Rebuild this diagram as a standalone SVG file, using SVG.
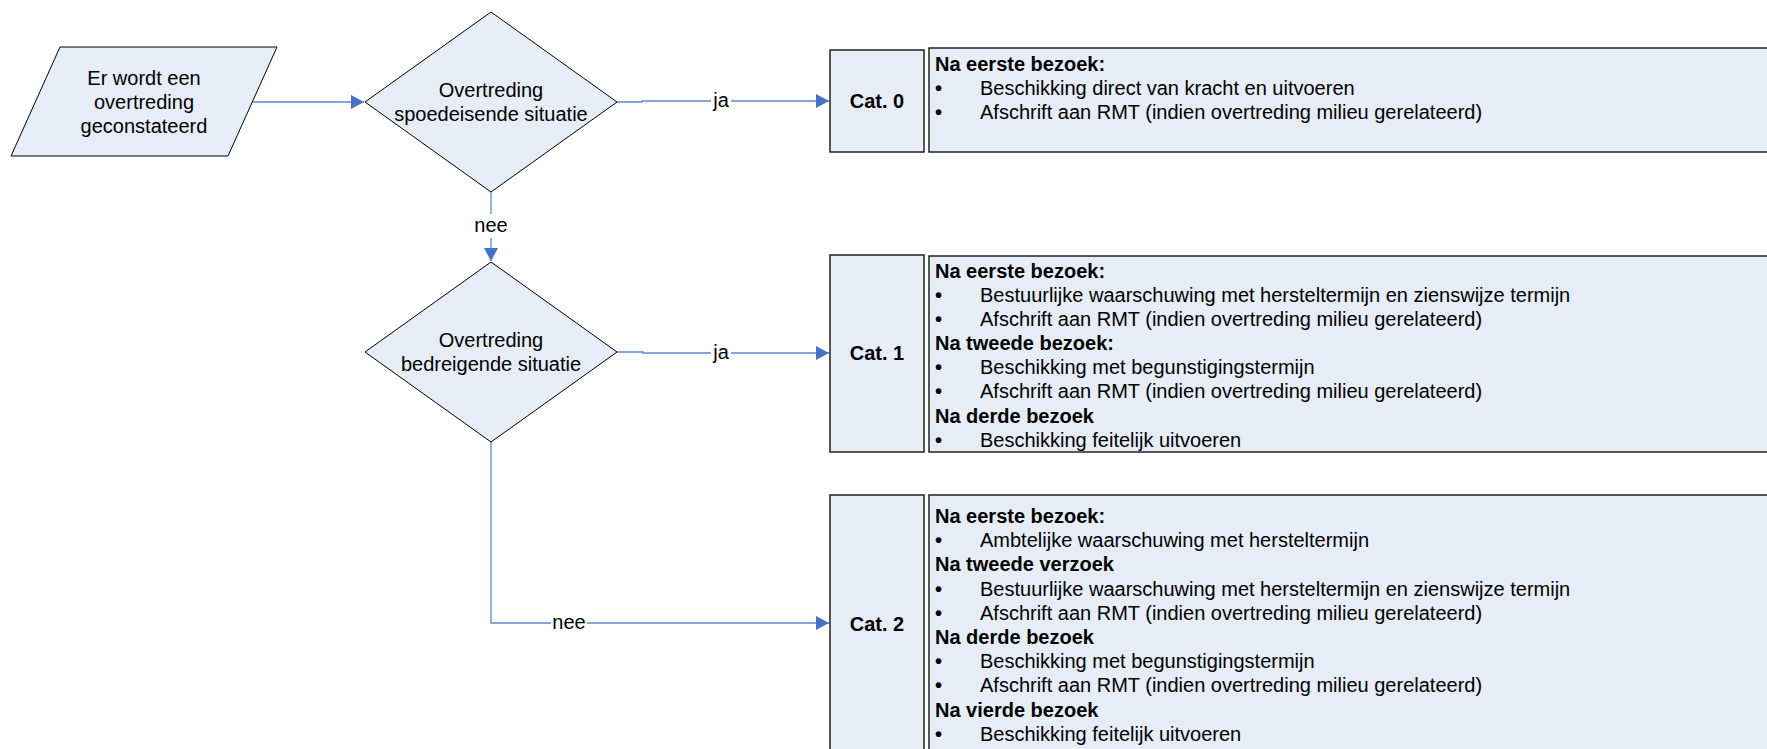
<svg xmlns="http://www.w3.org/2000/svg" width="1767" height="749" viewBox="0 0 1767 749">
<style>
text{font-family:"Liberation Sans",Arial,sans-serif;font-size:20px;fill:#000}
.c{text-anchor:middle}
.b{font-weight:bold}
.d{font-weight:bold}
.shape{fill:#e7edf7;stroke:#000;stroke-width:1}
.box{fill:#e7edf7;stroke:#222;stroke-width:1.5}
.conn{fill:none;stroke:#5b8ac8;stroke-width:1.3}
.lbl{fill:#fff;stroke:none}
</style>
<defs>
<marker id="arr" markerWidth="14" markerHeight="14" refX="13" refY="7" orient="auto" markerUnits="userSpaceOnUse">
<path d="M0,0 L13,7 L0,14 z" fill="#4472c4"/>
</marker>
</defs>
<rect width="1767" height="749" fill="#fff"/>

<g id="connectors">
<path class="conn" d="M253,102 H364" marker-end="url(#arr)"/>
<path class="conn" d="M617,102 H642 V101 H829" marker-end="url(#arr)"/>
<rect class="lbl" x="711" y="90" width="20" height="22"/>
<text class="c" x="721" y="107">ja</text>
<path class="conn" d="M491,192 V261" marker-end="url(#arr)"/>
<rect class="lbl" x="472" y="214" width="38" height="24"/>
<text class="c" x="491" y="232">nee</text>
<path class="conn" d="M617,352 H643 V353 H829" marker-end="url(#arr)"/>
<rect class="lbl" x="711" y="342" width="20" height="22"/>
<text class="c" x="721" y="359">ja</text>
<path class="conn" d="M491,442 V623 H829" marker-end="url(#arr)"/>
<rect class="lbl" x="551" y="612" width="36" height="22"/>
<text class="c" x="569" y="629">nee</text>
</g>

<g id="start">
<polygon class="shape" points="60,47 277,47 228,156 11,156"/>
<text class="c" x="144" y="85">Er wordt een</text>
<text class="c" x="144" y="109">overtreding</text>
<text class="c" x="144" y="133">geconstateerd</text>
</g>

<g id="decision1">
<polygon class="shape" points="491,12 617,102 491,192 365,102"/>
<text class="c" x="491" y="97">Overtreding</text>
<text class="c" x="491" y="121">spoedeisende situatie</text>
</g>

<g id="decision2">
<polygon class="shape" points="491,262 617,352 491,442 365,352"/>
<text class="c" x="491" y="347">Overtreding</text>
<text class="c" x="491" y="371">bedreigende situatie</text>
</g>

<g id="cat0">
<rect class="box" x="830" y="50" width="94" height="102"/>
<text class="c b" x="877" y="108">Cat. 0</text>
</g>
<g id="cat0-text">
<rect class="box" x="929" y="48" width="850" height="104"/>
<text class="b" x="935" y="71">Na eerste bezoek:</text>
<text class="d" x="935" y="95">•</text><text x="980" y="95">Beschikking direct van kracht en uitvoeren</text>
<text class="d" x="935" y="119">•</text><text x="980" y="119">Afschrift aan RMT (indien overtreding milieu gerelateerd)</text>
</g>

<g id="cat1">
<rect class="box" x="830" y="255" width="94" height="197"/>
<text class="c b" x="877" y="360">Cat. 1</text>
</g>
<g id="cat1-text">
<rect class="box" x="929" y="256" width="850" height="196"/>
<text class="b" x="935" y="278">Na eerste bezoek:</text>
<text class="d" x="935" y="302">•</text><text x="980" y="302">Bestuurlijke waarschuwing met hersteltermijn en zienswijze termijn</text>
<text class="d" x="935" y="326">•</text><text x="980" y="326">Afschrift aan RMT (indien overtreding milieu gerelateerd)</text>
<text class="b" x="935" y="350">Na tweede bezoek:</text>
<text class="d" x="935" y="374">•</text><text x="980" y="374">Beschikking met begunstigingstermijn</text>
<text class="d" x="935" y="398">•</text><text x="980" y="398">Afschrift aan RMT (indien overtreding milieu gerelateerd)</text>
<text class="b" x="935" y="423">Na derde bezoek</text>
<text class="d" x="935" y="447">•</text><text x="980" y="447">Beschikking feitelijk uitvoeren</text>
</g>

<g id="cat2">
<rect class="box" x="830" y="495" width="94" height="300"/>
<text class="c b" x="877" y="631">Cat. 2</text>
</g>
<g id="cat2-text">
<rect class="box" x="929" y="495" width="850" height="300"/>
<text class="b" x="935" y="523">Na eerste bezoek:</text>
<text class="d" x="935" y="547">•</text><text x="980" y="547">Ambtelijke waarschuwing met hersteltermijn</text>
<text class="b" x="935" y="571">Na tweede verzoek</text>
<text class="d" x="935" y="596">•</text><text x="980" y="596">Bestuurlijke waarschuwing met hersteltermijn en zienswijze termijn</text>
<text class="d" x="935" y="620">•</text><text x="980" y="620">Afschrift aan RMT (indien overtreding milieu gerelateerd)</text>
<text class="b" x="935" y="644">Na derde bezoek</text>
<text class="d" x="935" y="668">•</text><text x="980" y="668">Beschikking met begunstigingstermijn</text>
<text class="d" x="935" y="692">•</text><text x="980" y="692">Afschrift aan RMT (indien overtreding milieu gerelateerd)</text>
<text class="b" x="935" y="717">Na vierde bezoek</text>
<text class="d" x="935" y="741">•</text><text x="980" y="741">Beschikking feitelijk uitvoeren</text>
</g>
</svg>
